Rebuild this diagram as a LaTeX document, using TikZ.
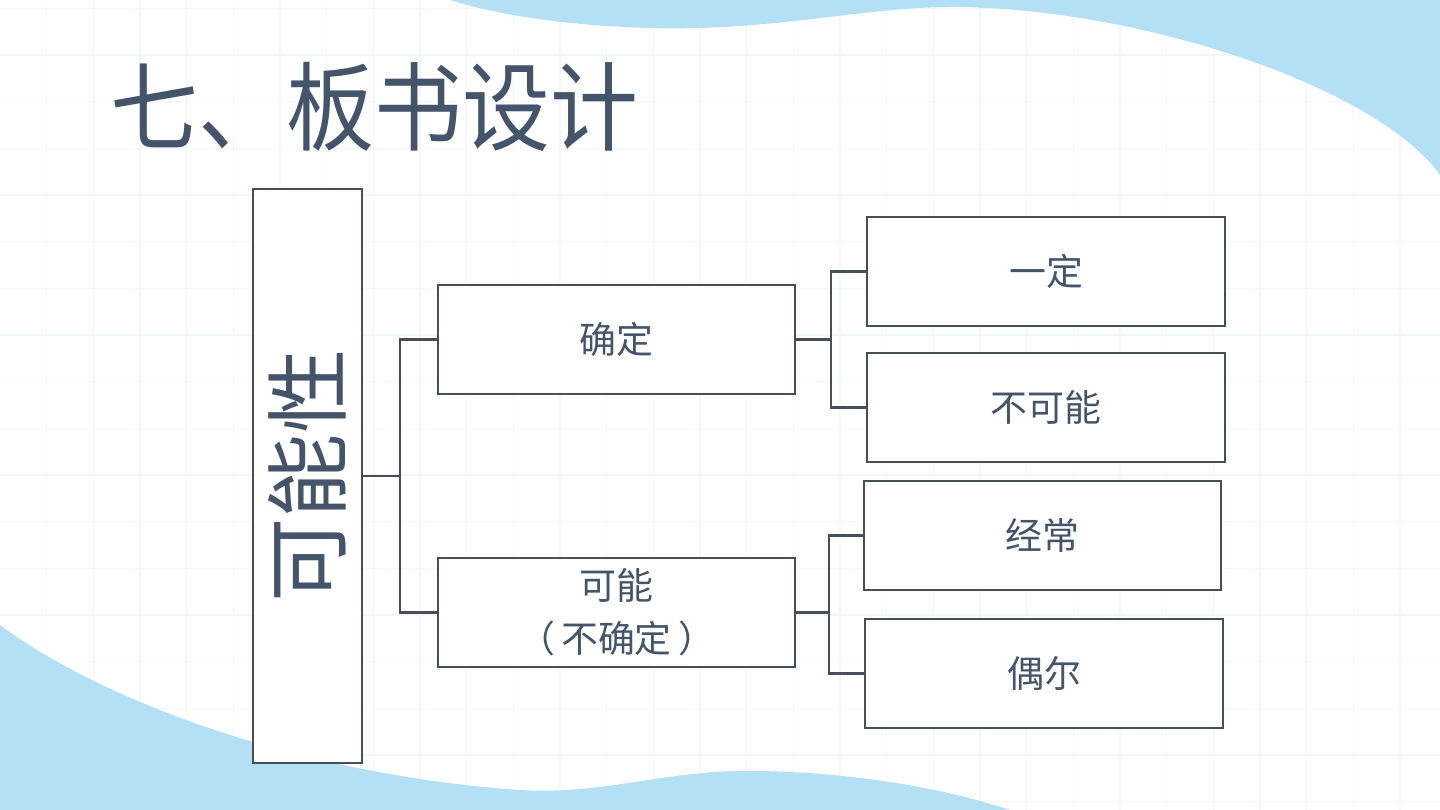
\documentclass[tikz,border=0pt]{standalone}
\usepackage{fontspec}
\newfontfamily\cjk{Noto Sans CJK SC}
\definecolor{slate}{HTML}{44546A}
\definecolor{edge}{HTML}{474E59}
\definecolor{wave}{HTML}{B4E0F5}
\definecolor{gridc}{HTML}{F3F6F8}
\begin{document}
\begin{tikzpicture}[x=0.01cm,y=-0.01cm,
    box/.style={draw=edge,line width=0.6pt,fill=white,minimum width=3.57cm,minimum height=1.09cm,inner sep=0pt,
        font=\cjk\fontsize{10.5}{15}\selectfont,text=slate,align=center},
    link/.style={draw=edge,line width=0.6pt}]
    \useasboundingbox (0,0) rectangle (1440,810);
    \fill[white] (0,0) rectangle (1440,810);
    % faint grid
    \foreach \gx in {1,...,30} \draw[gridc,line width=0.4pt] (\gx*46.67,0) -- (\gx*46.67,810);
    \foreach \gy in {0,...,17} \draw[gridc,line width=0.4pt] (0,8.3+\gy*46.67) -- (1440,8.3+\gy*46.67);
    % waves
    \fill[wave] (450,0) .. controls (520,22) and (620,30) .. (700,28)
        .. controls (800,25) and (880,6) .. (960,7)
        .. controls (1150,10) and (1380,90) .. (1440,175) -- (1440,0) -- cycle;
    \fill[wave] (0,625) .. controls (100,700) and (300,775) .. (520,790)
        .. controls (600,795) and (660,772) .. (740,771)
        .. controls (850,770) and (950,790) .. (1010,810) -- (0,810) -- cycle;
    % title
    \node[font=\cjk\fontsize{25}{30}\selectfont,text=slate,anchor=west,yscale=1.1] (title) at (98,107) {七、板书设计};
    % tree
    \node[draw=edge,line width=0.6pt,fill=white,rotate=90,minimum width=5.74cm,minimum height=1.09cm,inner sep=0pt,
        font=\cjk\fontsize{24}{28}\selectfont,text=slate] (root) at (307.5,476) {可能性};
    \node[box] (sure) at (616.5,339.5) {确定};
    \node[box] (maybe) at (616.5,612.5) {可能\\（\,不确定\,）};
    \node[box,minimum width=3.58cm] (always) at (1046,271.5) {一定};
    \node[box,minimum width=3.58cm] (never) at (1046,407.5) {不可能};
    \node[box] (often) at (1042.5,535.5) {经常};
    \node[box,minimum width=3.58cm] (seldom) at (1044,673.5) {偶尔};
    \coordinate (j1) at (400,476);
    \coordinate (j2) at (831,339.5);
    \coordinate (j3) at (829,612.5);
    \draw[link] (root.south) -- (j1);
    \draw[link] (j1) |- (sure.west);
    \draw[link] (j1) |- (maybe.west);
    \draw[link] (sure.east) -- (j2);
    \draw[link] (j2) |- (always.west);
    \draw[link] (j2) |- (never.west);
    \draw[link] (maybe.east) -- (j3);
    \draw[link] (j3) |- (often.west);
    \draw[link] (j3) |- (seldom.west);
\end{tikzpicture}
\end{document}
